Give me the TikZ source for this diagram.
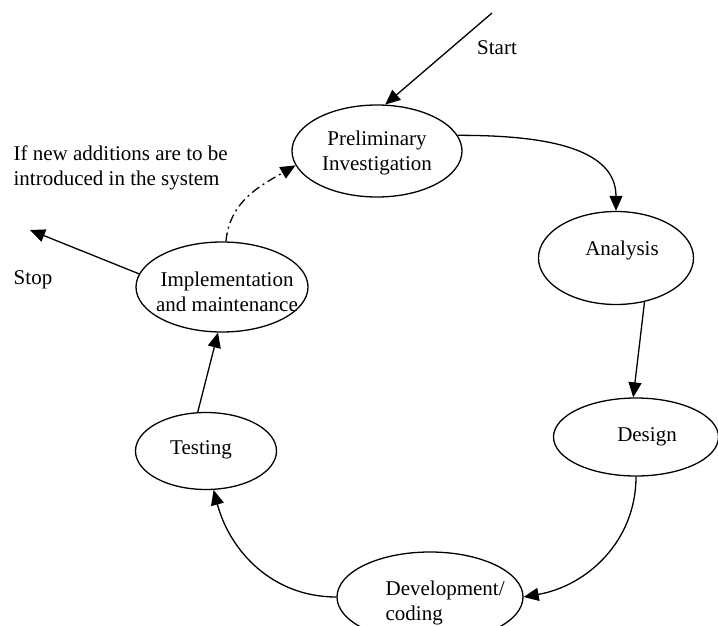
\documentclass[tikz,border=0pt]{standalone}
\usepackage{fontspec}
\setmainfont{Liberation Serif}
\usetikzlibrary{arrows.meta,shapes.geometric}

\begin{document}
\begin{tikzpicture}[x=1pt,y=-1pt,>={Triangle[length=15pt,width=13pt]},line width=1.3pt,font=\fontsize{21}{25}\selectfont]
		\tikzstyle{stage}=[draw,ellipse,inner sep=0pt]
		\tikzstyle{words}=[inner sep=0pt,align=center]
		\tikzstyle{dashdot}=[dash pattern=on 9pt off 4pt on 2pt off 4pt]

		\useasboundingbox (0,0) rectangle (718,626);

		% the cycle
		\node[stage,minimum width=170pt,minimum height=92pt] (prelim) at (377,151) {};
		\node[stage,minimum width=155pt,minimum height=93pt] (analysis) at (616,258) {};
		\node[stage,minimum width=165pt,minimum height=78pt] (design) at (636,437) {};
		\node[stage,minimum width=186pt,minimum height=90pt] (dev) at (430,597) {};
		\node[stage,minimum width=141pt,minimum height=77pt] (testing) at (206,451) {};
		\node[stage,minimum width=172pt,minimum height=90pt] (impl) at (222,287) {};

		\node[words] (prelimtext) at (377,153) {Preliminary\\Investigation};
		\node[words] (analysistext) at (622,250) {Analysis};
		\node[words] (designtext) at (647,437) {Design};
		\node[words,anchor=west,align=left] (devtext) at (385,603) {Development/\\coding};
		\node[words] (testingtext) at (201,450) {Testing};
		\node[words] (impltext) at (227,292) {Implementation\\and maintenance};

		% way in and way out
		\coordinate (startpt) at (492,13);
		\coordinate (stoppt) at (30,230);
		\node[words] (startlabel) at (497,48) {Start};
		\node[words] (stoplabel) at (33,280) {Stop};
		\node[words,anchor=west,align=left] (note) at (13,168) {If new additions are to be\\introduced in the system};

		\path[->]
		(startpt) edge (prelim.80)
		(prelim.11) edge [out=0,in=90] (analysis.north)
		(analysis.-57) edge (design.94)
		(design.south) edge [out=-90,in=10] (dev.east)
		(dev.west) edge [out=180,in=-75] (testing.-79)
		(testing.102) edge (impl.-95)
		(impl.171) edge (stoppt);

		\draw[->,dashdot] (impl.85) to [out=85,in=-150] (prelim.-170);
	\end{tikzpicture}
\end{document}
